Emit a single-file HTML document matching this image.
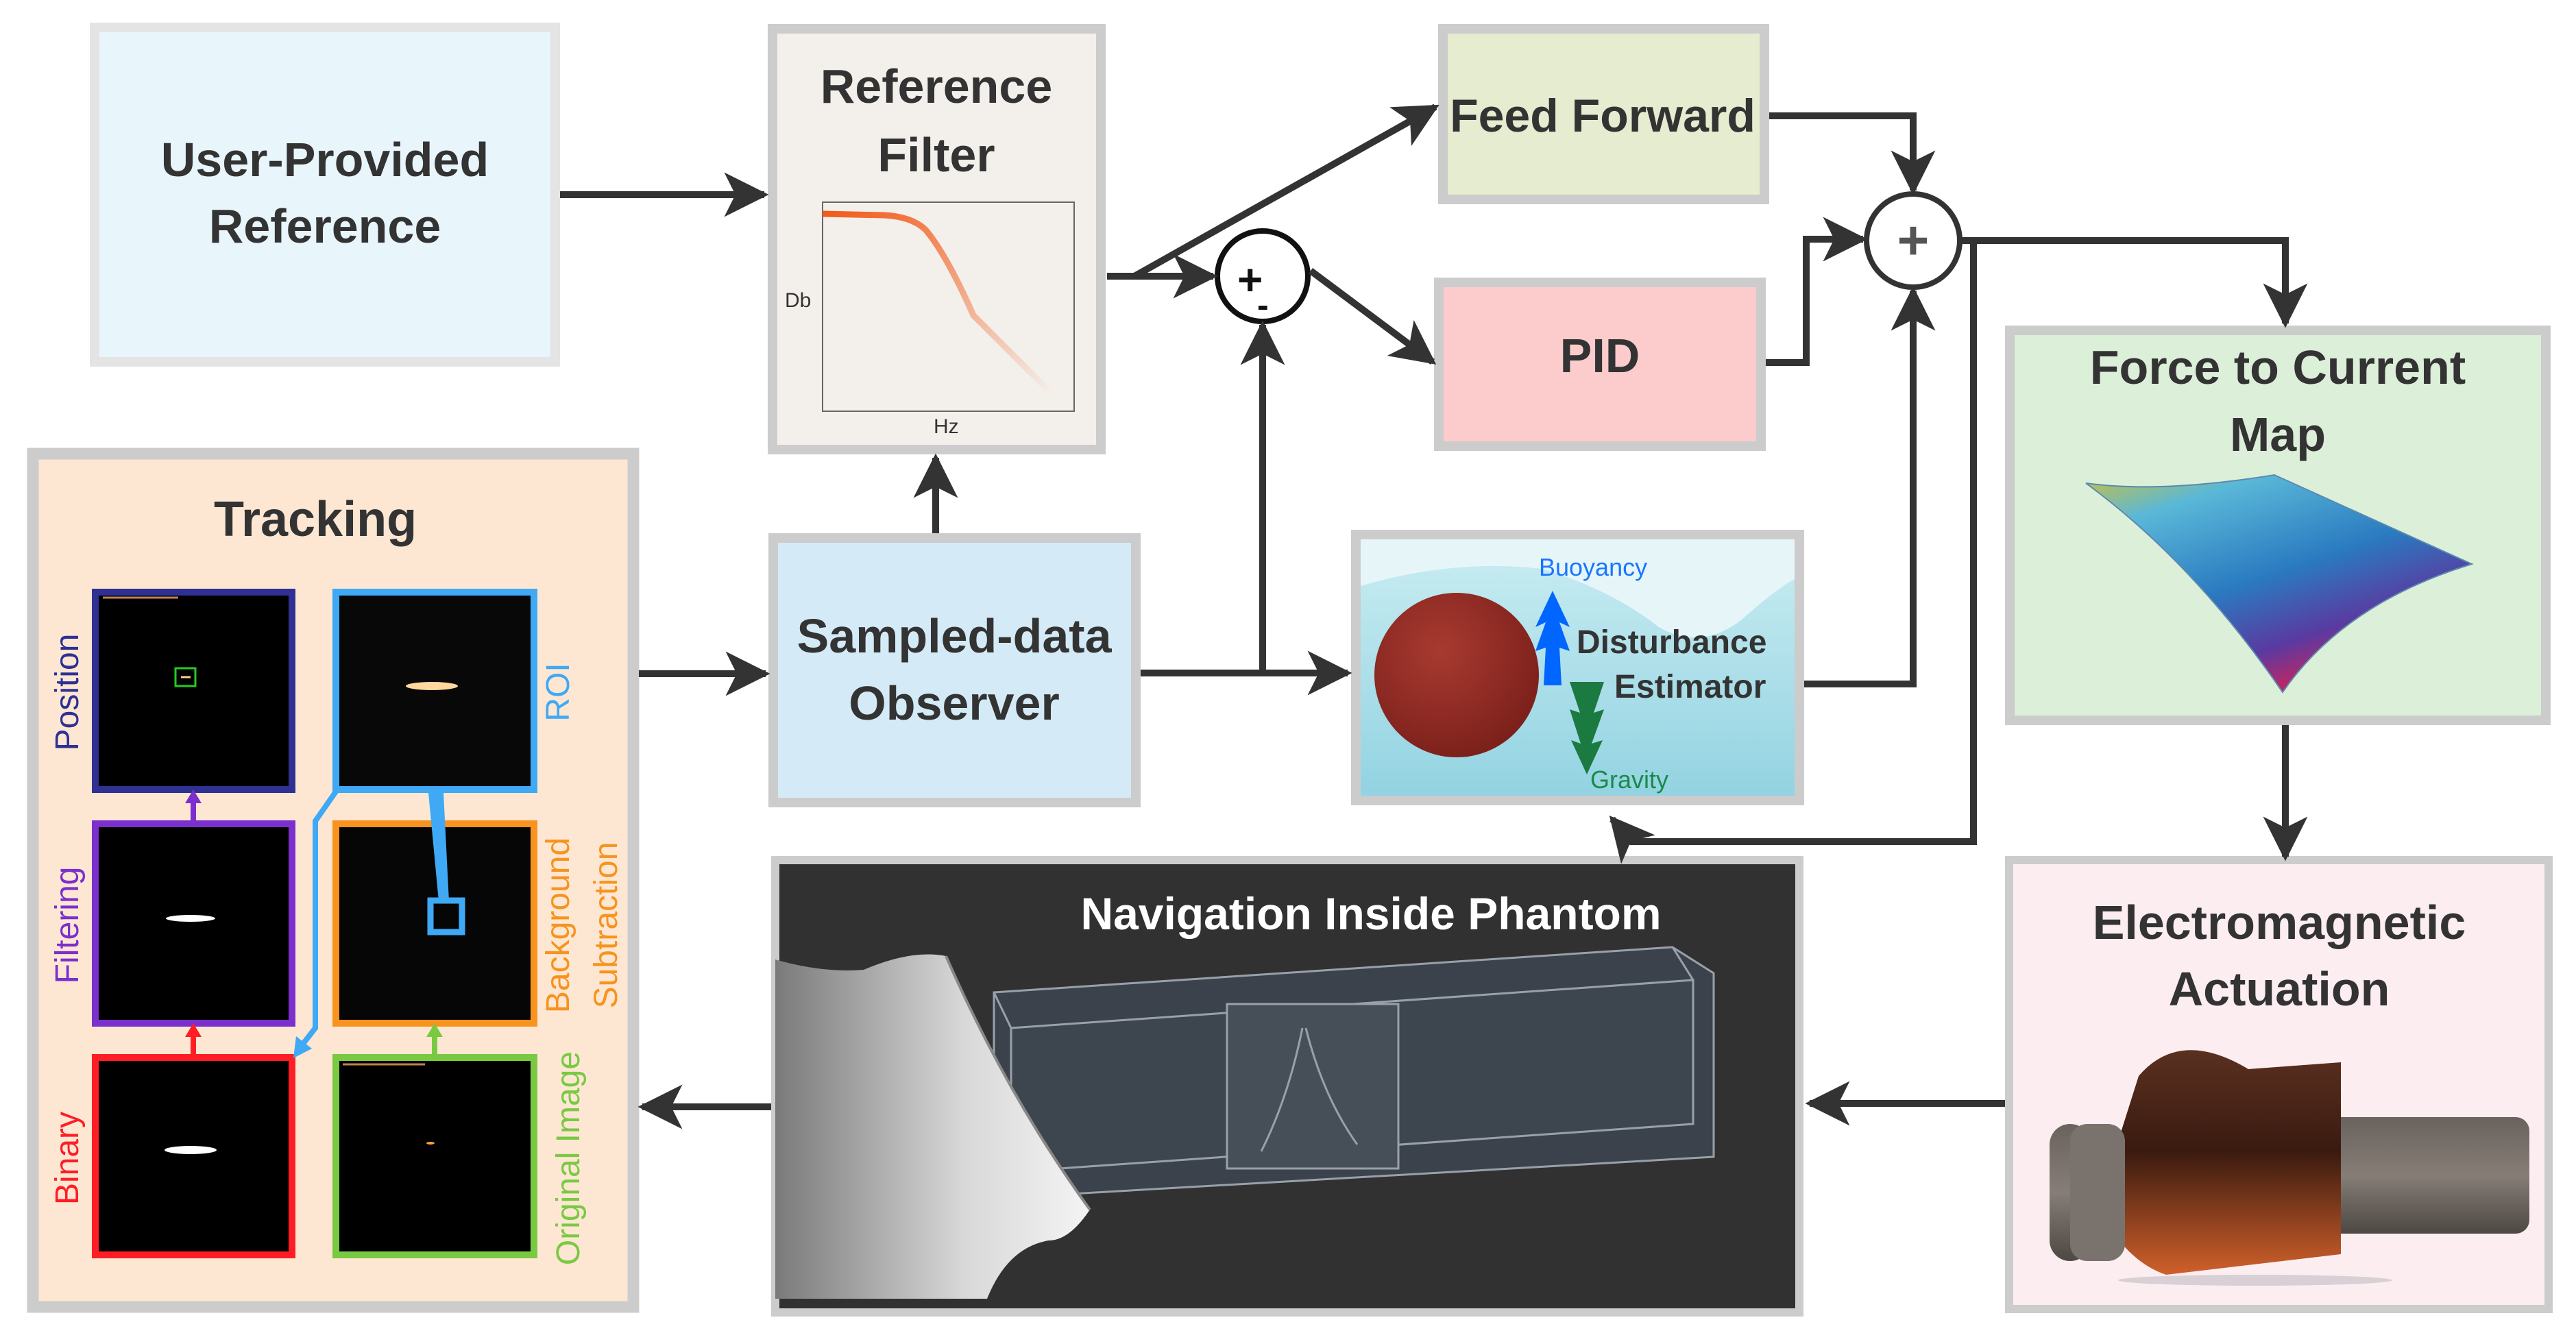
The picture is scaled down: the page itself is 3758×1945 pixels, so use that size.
<!DOCTYPE html>
<html><head><meta charset="utf-8"><style>
html,body{margin:0;padding:0;background:#fff;}
svg{display:block;}
text{font-family:"Liberation Sans",sans-serif;}
.t{font-weight:bold;fill:#333;text-anchor:middle;}
</style></head><body>
<svg width="3758" height="1945" viewBox="0 0 3758 1945" xmlns="http://www.w3.org/2000/svg">
<defs>
<marker id="ah" viewBox="0 0 20 20" refX="18" refY="10" markerWidth="6.5" markerHeight="6.5" markerUnits="strokeWidth" orient="auto">
<path d="M0,0 L20,10 L0,20 L5,10 Z" fill="#333"/></marker>
<linearGradient id="water" x1="0" y1="0" x2="0" y2="1"><stop offset="0" stop-color="#c4eaf0"/><stop offset="1" stop-color="#93d3e2"/></linearGradient>
<radialGradient id="sph" cx="0.4" cy="0.35" r="0.7"><stop offset="0" stop-color="#a83a30"/><stop offset="1" stop-color="#7a1f1a"/></radialGradient>
<linearGradient id="surf" x1="0" y1="0" x2="0.6" y2="1"><stop offset="0" stop-color="#c8c040"/><stop offset="0.2" stop-color="#5ab8d8"/><stop offset="0.55" stop-color="#2a7ac0"/><stop offset="0.8" stop-color="#5a3aa0"/><stop offset="1" stop-color="#e02050"/></linearGradient>
<linearGradient id="coil" x1="0" y1="0" x2="0" y2="1"><stop offset="0" stop-color="#5a3020"/><stop offset="0.45" stop-color="#3a1a10"/><stop offset="1" stop-color="#d0602a"/></linearGradient>
<linearGradient id="rod" x1="0" y1="0" x2="0" y2="1"><stop offset="0" stop-color="#6a625c"/><stop offset="0.5" stop-color="#857d76"/><stop offset="1" stop-color="#4e4843"/></linearGradient>
<linearGradient id="probe" x1="0" y1="0" x2="1" y2="0"><stop offset="0" stop-color="#7a7a7a"/><stop offset="0.6" stop-color="#d8d8d8"/><stop offset="1" stop-color="#f4f4f4"/></linearGradient>
<linearGradient id="filt" x1="0" y1="0" x2="1" y2="1"><stop offset="0" stop-color="#f25a1a"/><stop offset="1" stop-color="#f3f0eb"/></linearGradient>
</defs>

<rect x="138" y="40" width="672" height="488" fill="#e8f5fb" stroke="#e4e4e4" stroke-width="14"/>
<text class="t" x="474" y="257" font-size="70">User-Provided</text>
<text class="t" x="474" y="354" font-size="70">Reference</text>

<rect x="1127" y="42" width="479" height="614" fill="#f3f0eb" stroke="#cccccc" stroke-width="14"/>
<text class="t" x="1366" y="150" font-size="70">Reference</text>
<text class="t" x="1366" y="250" font-size="70">Filter</text>
<rect x="1200" y="295" width="367" height="305" fill="none" stroke="#666" stroke-width="2"/>
<path d="M1200,312 L1290,314 Q1330,316 1350,335 Q1380,370 1420,460 L1535,575" fill="none" stroke="url(#filt)" stroke-width="9"/>
<text x="1145" y="448" font-size="30" fill="#333">Db</text>
<text x="1362" y="632" font-size="30" fill="#333">Hz</text>

<rect x="2105" y="42" width="469" height="249" fill="#e5eccf" stroke="#cccccc" stroke-width="14"/>
<text class="t" x="2338" y="192" font-size="68">Feed Forward</text>

<rect x="2099" y="412" width="470" height="239" fill="#fccccc" stroke="#cccccc" stroke-width="14"/>
<text class="t" x="2334" y="543" font-size="70">PID</text>

<circle cx="1842" cy="403" r="66" fill="#fff" stroke="#111" stroke-width="8"/>
<text x="1805" y="430" font-size="64" font-weight="bold" fill="#111">+</text>
<text x="1834" y="462" font-size="50" font-weight="bold" fill="#111">-</text>
<circle cx="2791" cy="351" r="68" fill="#fff" stroke="#333" stroke-width="8"/>
<text x="2791" y="378" font-size="80" font-weight="bold" fill="#555" text-anchor="middle">+</text>

<rect x="2932" y="482" width="782" height="569" fill="#dcefd9" stroke="#cccccc" stroke-width="14"/>
<text class="t" x="3323" y="560" font-size="70">Force to Current</text>
<text class="t" x="3323" y="658" font-size="70">Map</text>
<path d="M3043,705 Q3150,720 3318,693 L3606,823 Q3420,880 3330,1010 Q3200,820 3043,705 Z" fill="url(#surf)" stroke="#5a8ab0" stroke-width="2"/>

<rect x="48" y="662" width="876" height="1245" fill="#fde7d3" stroke="#cccccc" stroke-width="17"/>
<text class="t" x="460" y="782" font-size="72">Tracking</text>
<rect x="139" y="864" width="287" height="288" fill="#000" stroke="#2e3192" stroke-width="10"/>
<rect x="256" y="975" width="29" height="26" fill="none" stroke="#22cc22" stroke-width="3"/>
<line x1="264" y1="988" x2="278" y2="988" stroke="#ffd080" stroke-width="3"/>
<line x1="150" y1="872" x2="260" y2="872" stroke="#c08050" stroke-width="3"/>
<rect x="490" y="864" width="289" height="288" fill="#080808" stroke="#3fa9f5" stroke-width="10"/>
<ellipse cx="630" cy="1001" rx="38" ry="6" fill="#ffd8a0"/>
<rect x="139" y="1202" width="287" height="291" fill="#000" stroke="#7b2fcc" stroke-width="10"/>
<ellipse cx="278" cy="1340" rx="36" ry="5" fill="#fff"/>
<rect x="490" y="1202" width="289" height="291" fill="#060606" stroke="#f7931e" stroke-width="10"/>
<rect x="139" y="1543" width="287" height="288" fill="#000" stroke="#ff1d25" stroke-width="10"/>
<ellipse cx="278" cy="1678" rx="38" ry="6" fill="#fff"/>
<rect x="490" y="1543" width="289" height="288" fill="#000" stroke="#7ac943" stroke-width="10"/>
<line x1="500" y1="1553" x2="620" y2="1553" stroke="#c08050" stroke-width="3"/>
<ellipse cx="628" cy="1668" rx="6" ry="2" fill="#ffa040"/>
<polygon points="625,1157 647,1157 655,1315 640,1315" fill="#3fa9f5"/>
<rect x="628" y="1314" width="46" height="46" fill="none" stroke="#3fa9f5" stroke-width="9"/>
<path d="M490,1155 L460,1198 L460,1500 L432,1536" fill="none" stroke="#3fa9f5" stroke-width="8"/>
<polygon points="428,1544 432,1512 455,1530" fill="#3fa9f5"/>
<line x1="282" y1="1197" x2="282" y2="1170" stroke="#7b2fcc" stroke-width="8"/><polygon points="270,1172 282,1152 294,1172" fill="#7b2fcc"/>
<line x1="282" y1="1538" x2="282" y2="1511" stroke="#ff1d25" stroke-width="8"/><polygon points="270,1513 282,1493 294,1513" fill="#ff1d25"/>
<line x1="634" y1="1538" x2="634" y2="1511" stroke="#7ac943" stroke-width="8"/><polygon points="622,1513 634,1493 646,1513" fill="#7ac943"/>
<text x="114" y="1010" font-size="48" fill="#2e3192" transform="rotate(-90 114 1010)" text-anchor="middle">Position</text>
<text x="114" y="1350" font-size="48" fill="#7b2fcc" transform="rotate(-90 114 1350)" text-anchor="middle">Filtering</text>
<text x="114" y="1690" font-size="48" fill="#ff1d25" transform="rotate(-90 114 1690)" text-anchor="middle">Binary</text>
<text x="830" y="1010" font-size="48" fill="#3fa9f5" transform="rotate(-90 830 1010)" text-anchor="middle">ROI</text>
<text x="830" y="1350" font-size="48" fill="#f7931e" transform="rotate(-90 830 1350)" text-anchor="middle">Background</text>
<text x="900" y="1350" font-size="48" fill="#f7931e" transform="rotate(-90 900 1350)" text-anchor="middle">Subtraction</text>
<text x="845" y="1690" font-size="48" fill="#7ac943" transform="rotate(-90 845 1690)" text-anchor="middle">Original Image</text>

<rect x="1128" y="785" width="529" height="386" fill="#d4ebf7" stroke="#cccccc" stroke-width="14"/>
<text class="t" x="1392" y="952" font-size="70">Sampled-data</text>
<text class="t" x="1392" y="1050" font-size="70">Observer</text>

<rect x="1978" y="780" width="647" height="388" fill="#e6f6f8" stroke="#cccccc" stroke-width="14"/>
<path d="M1985,855 Q2120,815 2250,830 Q2350,860 2420,915 Q2480,950 2540,905 Q2590,860 2618,845 L2618,1161 L1985,1161 Z" fill="url(#water)"/>
<circle cx="2125" cy="985" r="120" fill="url(#sph)"/>
<polygon points="2265,862 2290,915 2275,908 2290,950 2275,945 2278,1000 2252,1000 2255,945 2240,950 2255,908 2240,915" fill="#0066ff"/>
<polygon points="2290,995 2340,995 2325,1040 2340,1035 2322,1085 2338,1080 2315,1130 2292,1080 2306,1085 2290,1035 2305,1040" fill="#1a7a40"/>
<text x="2245" y="840" font-size="36" fill="#1a75ff">Buoyancy</text>
<text x="2300" y="953" font-size="48" font-weight="bold" fill="#333">Disturbance</text>
<text x="2355" y="1018" font-size="48" font-weight="bold" fill="#333">Estimator</text>
<text x="2320" y="1150" font-size="36" fill="#1a8a4a">Gravity</text>

<rect x="1131" y="1255" width="1494" height="660" fill="#313131" stroke="#cccccc" stroke-width="12"/>
<text x="2000" y="1356" font-size="66" font-weight="bold" fill="#fff" text-anchor="middle">Navigation Inside Phantom</text>
<g stroke="#aab4be" stroke-width="3" fill="none" opacity="0.85">
<polygon points="1450,1448 2440,1382 2500,1420 2500,1688 1510,1745 1450,1705" fill="#3d4650"/>
<polygon points="1475,1500 2470,1430 2470,1640 1475,1710" fill="#404a55"/>
<line x1="1450" y1="1448" x2="1475" y2="1500"/><line x1="2440" y1="1382" x2="2470" y2="1430"/>
<rect x="1790" y="1465" width="250" height="240" fill="#4a545e"/>
<path d="M1900,1500 Q1880,1600 1840,1680 M1905,1500 Q1930,1600 1980,1670"/>
</g>
<path d="M1131,1400 Q1200,1420 1260,1415 Q1330,1385 1380,1395 Q1470,1600 1590,1765 Q1560,1810 1530,1810 Q1470,1820 1440,1895 L1131,1895 Z" fill="url(#probe)"/>
<path d="M1380,1395 Q1470,1600 1590,1765" fill="none" stroke="#888" stroke-width="4"/>

<rect x="2931" y="1255" width="787" height="655" fill="#fcedf1" stroke="#cccccc" stroke-width="12"/>
<text class="t" x="3325" y="1370" font-size="70">Electromagnetic</text>
<text class="t" x="3325" y="1467" font-size="70">Actuation</text>
<rect x="3360" y="1630" width="330" height="170" rx="20" fill="url(#rod)"/>
<path d="M3120,1570 Q3180,1500 3280,1560 L3415,1550 L3415,1830 L3160,1860 Q3100,1840 3060,1760 Z" fill="url(#coil)"/>
<rect x="2990" y="1640" width="60" height="200" rx="30" fill="url(#rod)"/>
<rect x="3020" y="1640" width="80" height="200" rx="25" fill="#7a736d"/>
<ellipse cx="3290" cy="1868" rx="200" ry="8" fill="#d8d0d4"/>

<g stroke="#333" stroke-width="10" fill="none" stroke-linejoin="miter">
<line x1="817" y1="284" x2="1115" y2="284" marker-end="url(#ah)"/>
<line x1="1615" y1="403" x2="1770" y2="403" marker-end="url(#ah)"/>
<line x1="1655" y1="403" x2="2094" y2="156" marker-end="url(#ah)"/>
<line x1="1912" y1="395" x2="2090" y2="528" marker-end="url(#ah)"/>
<line x1="1365" y1="778" x2="1365" y2="668" marker-end="url(#ah)"/>
<line x1="1664" y1="982" x2="1966" y2="982" marker-end="url(#ah)"/>
<line x1="1842" y1="982" x2="1842" y2="474" marker-end="url(#ah)"/>
<polyline points="2632,998 2791,998 2791,424" marker-end="url(#ah)"/>
<polyline points="2581,169 2791,169 2791,278" marker-end="url(#ah)"/>
<polyline points="2576,529 2635,529 2635,349 2718,349" marker-end="url(#ah)"/>
<polyline points="2859,351 3334,351 3334,472" marker-end="url(#ah)"/>
<polyline points="2879,355 2879,1228 2380,1228 2352,1195" marker-end="url(#ah)"/>
<line x1="3334" y1="1058" x2="3334" y2="1250" marker-end="url(#ah)"/>
<line x1="2925" y1="1610" x2="2640" y2="1610" marker-end="url(#ah)"/>
<line x1="1125" y1="1615" x2="937" y2="1615" marker-end="url(#ah)"/>
<line x1="932" y1="983" x2="1117" y2="983" marker-end="url(#ah)"/>
</g>
</svg>
</body></html>
